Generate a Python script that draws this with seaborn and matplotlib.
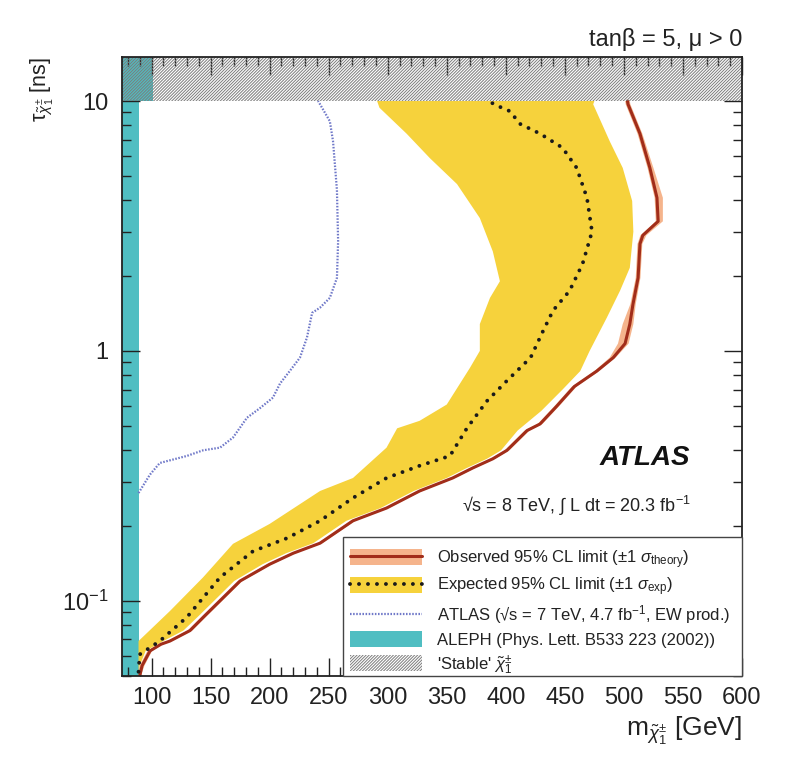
import numpy as np
import pandas as pd
import matplotlib
matplotlib.use("Agg")
import matplotlib.pyplot as plt
import seaborn as sns
from matplotlib.patches import Patch, Rectangle
from matplotlib.lines import Line2D
from matplotlib.ticker import FixedLocator, FuncFormatter, LogLocator, MultipleLocator

# ---------------- data ----------------
# Observed 95% CL limit: chargino mass [GeV] vs lifetime [ns]
obs_tau = [0.050, 0.055, 0.063, 0.067, 0.069, 0.076, 0.087, 0.100, 0.120, 0.140,
           0.155, 0.170, 0.209, 0.235, 0.275, 0.310, 0.340, 0.370, 0.400, 0.480,
           0.510, 0.600, 0.720, 0.830, 0.940, 1.070, 1.280, 1.540, 1.960, 2.680,
           2.900, 3.300, 4.100, 5.400, 7.400, 9.700, 10.00]
obs_mass = [90, 92, 98.7, 108, 115.6, 132.6, 145, 158, 175, 200,
            220, 242.7, 270.6, 299, 327, 355, 372, 389, 401, 418,
            429, 443, 458, 477, 491, 501, 505, 507.7, 512, 513.6,
            516, 529, 528, 522, 513.6, 503.5, 503]
# +-1 sigma theory band edges (mass) at the same lifetimes
obs_mass_lo = [89, 90, 96.5, 106, 113.5, 130.5, 143, 156, 173, 198,
               218, 240.5, 268.5, 297, 325, 353, 370, 387, 399, 416,
               427, 441, 456, 475, 488, 495, 499, 505.5, 510, 511.5,
               514, 527, 526, 520, 511.5, 501.5, 501]
obs_mass_hi = [91, 94, 100.5, 110, 117.5, 134.5, 147, 160, 177, 202,
               222, 244.7, 272.6, 301, 329, 357, 374, 391, 403, 420,
               431, 445, 460, 479, 493, 504, 508, 510, 514, 515.6,
               519, 533, 533, 525, 515.6, 505.5, 505]

# Expected 95% CL limit
exp_tau = [0.052, 0.061, 0.069, 0.086, 0.124, 0.158, 0.178, 0.209, 0.258, 0.310,
           0.347, 0.380, 0.490, 0.630, 0.760, 0.940, 1.200, 1.450, 1.740, 2.230,
           3.000, 4.100, 5.400, 6.500, 7.400, 8.100, 9.100, 9.700, 10.00]
exp_mass = [89, 90, 107, 130, 158, 186, 214.7, 242.7, 270.6, 299,
            327, 352.7, 367, 384, 401, 421, 431.5, 440, 454, 465,
            473, 468.7, 460, 448, 429, 412, 403.5, 390, 386]

# Expected +-1 sigma band: low-mass edge (bottom to top)
band_lo_tau = [0.069, 0.091, 0.124, 0.169, 0.203, 0.275, 0.310, 0.410, 0.490, 0.525,
               0.610, 0.855, 1.000, 1.280, 1.630, 1.900, 2.500, 3.400, 4.650, 5.900,
               7.400, 9.400, 10.00]
band_lo_mass = [89, 115.6, 143.6, 169, 200, 242.7, 270.6, 299, 308, 327,
                350, 369.6, 378, 378, 386.6, 395, 389, 378, 358.7, 335.8,
                316, 293, 291]
# ... and high-mass edge (top to bottom)
band_hi_tau = [10.00, 9.700, 6.900, 5.400, 3.980, 3.000, 2.150, 1.740, 1.360, 1.000,
               0.830, 0.700, 0.575, 0.480, 0.400, 0.370, 0.340, 0.310, 0.275, 0.235,
               0.209, 0.170, 0.155, 0.140, 0.120, 0.100, 0.087, 0.076, 0.069, 0.063,
               0.055, 0.050]
band_hi_mass = [475, 474, 488, 499, 507, 508, 505, 496.7, 485.6, 471,
                463, 448, 430, 410, 396, 384, 367, 350, 322, 294,
                265, 237, 214, 194, 170, 153, 140, 127, 110, 95,
                90, 89]

# ATLAS sqrt(s) = 7 TeV, 4.7 fb-1 (EW production)
atlas7_tau = [0.270, 0.320, 0.356, 0.380, 0.400, 0.410, 0.450, 0.540, 0.590, 0.650,
              0.740, 0.830, 0.940, 1.130, 1.420, 1.490, 1.630, 1.960, 2.750, 4.400,
              6.900, 8.300, 9.700, 10.00]
atlas7_mass = [89, 98.7, 107, 130, 143.6, 158, 169, 180.8, 191.8, 202.8,
               208.8, 217, 225.7, 231.6, 236, 242.7, 251, 257, 258, 257,
               253.7, 251, 242.7, 241]

# ALEPH excluded mass range (short-lived / stable)
aleph_mass = 89
aleph_mass_stable = 101

xlim = (75, 600)
ylim = (0.05, 15)
stable_tau = 10
x_ticks = [100, 150, 200, 250, 300, 350, 400, 450, 500, 550, 600]
y_ticks = [0.1, 1, 10]
y_tick_labels = [r"$\mathregular{10^{-1}}$", "1", "10"]

# ---------------- style ----------------
sns.set_theme(style="ticks")
plt.rcParams["font.family"] = ["Liberation Sans", "DejaVu Sans"]
plt.rcParams["mathtext.fontset"] = "custom"
plt.rcParams["mathtext.rm"] = "Liberation Sans"
plt.rcParams["mathtext.it"] = "Liberation Sans:italic"
plt.rcParams["mathtext.bf"] = "Liberation Sans:bold"
plt.rcParams["mathtext.fallback"] = "stixsans"
plt.rcParams["hatch.linewidth"] = 0.7

c_obs = "#a12d1a"
c_theory = "#f5b48c"
c_yellow = "#f6d23c"
c_teal = "#50bec2"
c_blue = "#6f78c8"
c_hatch = "#7c7c7c"
hatch = "/" * 11
dots = (0, (0.01, 2.3))

fig = plt.figure(figsize=(8.03, 7.61), dpi=100)
ax = fig.add_axes([122 / 803, 1 - 676 / 761, 620 / 803, 619 / 761])
ax.set_axisbelow(False)
ax.set_yscale("log")
ax.set_xlim(*xlim)
ax.set_ylim(*ylim)

# ALEPH exclusion
ax.fill_betweenx([ylim[0], stable_tau], xlim[0], aleph_mass, color=c_teal, lw=0, zorder=1)
ax.fill_betweenx([stable_tau, ylim[1]], xlim[0], aleph_mass_stable, color=c_teal, lw=0, zorder=1)

# Expected +-1 sigma band
ax.fill(band_lo_mass + band_hi_mass, band_lo_tau + band_hi_tau,
        color=c_yellow, lw=0, zorder=2)

# Observed theory band
ax.fill(obs_mass_lo + obs_mass_hi[::-1], obs_tau + obs_tau[::-1],
        color=c_theory, lw=0, zorder=3)

df_obs = pd.DataFrame({"mass": obs_mass, "tau": obs_tau})
df_exp = pd.DataFrame({"mass": exp_mass, "tau": exp_tau})
df_a7 = pd.DataFrame({"mass": atlas7_mass, "tau": atlas7_tau})

sns.lineplot(data=df_obs, x="mass", y="tau", sort=False, estimator=None,
             color=c_obs, lw=2.2, ax=ax, zorder=4)
sns.lineplot(data=df_exp, x="mass", y="tau", sort=False, estimator=None,
             color="#1a1a1a", lw=2.8, ax=ax, zorder=5,
             linestyle=dots, dash_capstyle="round")
sns.lineplot(data=df_a7, x="mass", y="tau", sort=False, estimator=None,
             color=c_blue, lw=1.6, ax=ax, zorder=4,
             linestyle=(0, (0.7, 0.7)))

# 'Stable' region
ax.fill_between(list(xlim), stable_tau, ylim[1], facecolor="none",
                edgecolor=c_hatch, hatch=hatch, lw=0, zorder=6)

ax.set_xlim(*xlim)
ax.set_ylim(*ylim)

# ---------------- axes ----------------
ax.xaxis.set_major_locator(FixedLocator(x_ticks))
ax.xaxis.set_minor_locator(MultipleLocator(10))
ax.yaxis.set_major_locator(FixedLocator(y_ticks))
ax.yaxis.set_minor_locator(LogLocator(base=10, subs=np.arange(2, 10)))
ax.yaxis.set_major_formatter(FuncFormatter(
    lambda v, p: y_tick_labels[int(np.argmin(np.abs(np.log10(y_ticks) - np.log10(v))))]))
ax.yaxis.set_minor_formatter(FuncFormatter(lambda v, p: ""))

ax.tick_params(which="both", direction="in", top=True, right=True,
               labelsize=17, colors="#222222", width=1.0)
ax.tick_params(which="major", length=13, pad=8)
ax.tick_params(which="minor", length=6.5)
ax.tick_params(axis="y", which="major", pad=10)
for s in ax.spines.values():
    s.set_linewidth(1.3)
    s.set_color("#222222")
    s.set_zorder(10)

ax.set_xlabel(r"m$_{\tilde{\chi}^{\pm}_{1}}$ [GeV]", fontsize=19, loc="right",
              color="#222222", labelpad=4)
ax.set_ylabel(r"τ$_{\tilde{\chi}^{\pm}_{1}}$ [ns]", fontsize=15.5, loc="top",
              color="#222222", labelpad=4)

# ---------------- annotations ----------------
ax.text(1.0, 1.01, "tanβ = 5, μ > 0", transform=ax.transAxes, ha="right",
        va="bottom", fontsize=17, color="#222222")
ax.text(0.8435, 0.352, "ATLAS", transform=ax.transAxes, ha="center", va="center",
        fontsize=20, fontweight="bold", fontstyle="italic", color="#111111")
ax.text(0.733, 0.274, r"√s = 8 TeV, $\int$ L dt = 20.3 fb$^{-1}$",
        transform=ax.transAxes, ha="center", va="center", fontsize=13,
        color="#222222")

# ---------------- legend ----------------
leg_x0, leg_y1 = (343 - 122) / 620, (676 - 537) / 619
ax.add_patch(Rectangle((leg_x0, 0), 1 - leg_x0, leg_y1, transform=ax.transAxes,
                       facecolor="white", edgecolor="#444444", lw=1.0,
                       zorder=11, clip_on=False))

h_obs = (Patch(facecolor=c_theory, edgecolor="none"),
         Line2D([], [], color=c_obs, lw=2.2))
h_exp = (Patch(facecolor=c_yellow, edgecolor="none"),
         Line2D([], [], color="#1a1a1a", lw=2.8, linestyle=dots,
                dash_capstyle="round"))
h_a7 = Line2D([], [], color=c_blue, lw=1.6, linestyle=(0, (0.7, 0.7)))
h_al = Patch(facecolor=c_teal, edgecolor="none")
h_st = Patch(facecolor="none", edgecolor=c_hatch, hatch=hatch, lw=0)

labels = [r"Observed 95% CL limit (±1 $\sigma_{\mathrm{theory}}$)",
          r"Expected 95% CL limit (±1 $\sigma_{\mathrm{exp}}$)",
          r"ATLAS (√s = 7 TeV, 4.7 fb$^{-1}$, EW prod.)",
          "ALEPH (Phys. Lett. B533 223 (2002))",
          r"'Stable' $\tilde{\chi}^{\pm}_{1}$"]
leg = ax.legend([h_obs, h_exp, h_a7, h_al, h_st], labels,
                loc="upper left",
                bbox_to_anchor=((345 - 122) / 620, (676 - 543) / 619),
                borderaxespad=0, fontsize=12, frameon=False,
                handlelength=4.3, handleheight=1.1, labelspacing=0.3,
                handletextpad=0.9, borderpad=0.3)
leg.set_zorder(12)
for t in leg.get_texts():
    t.set_color("#222222")

fig.savefig("out.png", dpi=100)
